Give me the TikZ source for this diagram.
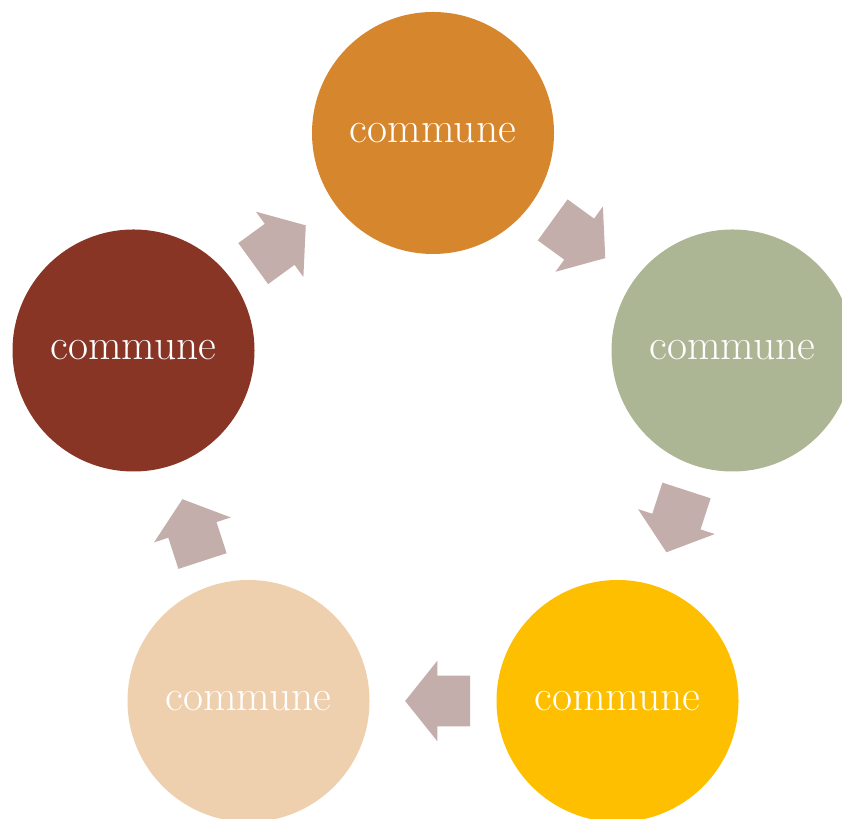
\documentclass[tikz,border=0pt]{standalone}
\usepackage{tikz}
\usetikzlibrary{positioning,calc,shapes.arrows}
\definecolor{cOrange}{HTML}{D6872E}
\definecolor{cSage}{HTML}{ADB694}
\definecolor{cGold}{HTML}{FDBF00}
\definecolor{cSand}{HTML}{EECFAE}
\definecolor{cBrick}{HTML}{883526}
\definecolor{cArrow}{HTML}{C4AEAB}
\tikzset{
  stage/.style={circle,draw=none,inner sep=0pt,minimum size=4.84cm,
    text=white,font=\fontsize{24.8}{29}\selectfont},
  blkarrow/.style={single arrow,fill=cArrow,draw=none,
    inner xsep=0pt,inner ysep=0.5cm,
    minimum height=1.3cm,minimum width=0pt,
    single arrow head extend=0.3cm,single arrow tip angle=102.7,
    single arrow head indent=0pt}
}

\begin{document}
\begin{tikzpicture}
                      \clip (0,0) rectangle (16.84,16.38);
                      \node[stage,fill=cOrange] (c_top)   at (8.66,13.72) {commune};
                      \node[stage,fill=cSage]   (c_right) at (14.65,9.37) {commune};
                      \node[stage,fill=cGold]   (c_low_r) at (12.35,2.36) {commune};
                      \node[stage,fill=cSand]   (c_low_l) at (4.97,2.36)  {commune};
                      \node[stage,fill=cBrick]  (c_left)  at (2.67,9.37)  {commune};
                      % block arrows, clockwise
                      \node[blkarrow,rotate=-36]  (a_1) at ($(c_top)!0.46!(c_right)$) {};
                      \node[blkarrow,rotate=-108] (a_2) at ($(c_right)!0.46!(c_low_r)$) {};
                      \node[blkarrow,rotate=180]  (a_3) at ($(c_low_r)!0.46!(c_low_l)$) {};
                      \node[blkarrow,rotate=108]  (a_4) at ($(c_low_l)!0.46!(c_left)$) {};
                      \node[blkarrow,rotate=36]   (a_5) at ($(c_left)!0.46!(c_top)$) {};
\end{tikzpicture}
\end{document}
